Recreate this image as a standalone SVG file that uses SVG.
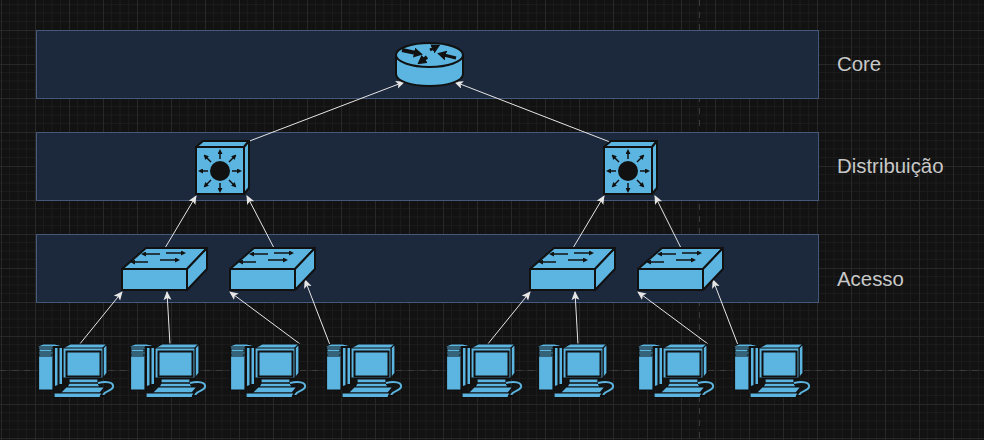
<svg xmlns="http://www.w3.org/2000/svg" width="984" height="440" viewBox="0 0 984 440">
<style>
.band{fill:#1c283c;stroke:#46597a;stroke-width:1}
.lbl{font-family:"Liberation Sans",Arial,sans-serif;font-size:20.400px;fill:#c8c8c8}
.s{fill:#5bb5e0;stroke:#111;stroke-width:2;stroke-linejoin:round}
.t{fill:#5bb5e0;stroke:#111;stroke-width:2;stroke-linejoin:round}
.q{fill:#5bb5e0;stroke:#111;stroke-width:1.200;stroke-linejoin:round}
.a{stroke:#111;stroke-width:1.500;fill:none;marker-end:url(#ah)}
.c{stroke:#e6e6e6;stroke-width:1;fill:none;marker-end:url(#open)}
.r{stroke:#111;fill:none;marker-end:url(#rh)}
</style>
<defs>
<pattern id="g" width="34" height="34" x="1" y="30" patternUnits="userSpaceOnUse">
<path d="M8.500 0V34M17 0V34M25.500 0V34M0 8.500H34M0 17H34M0 25.500H34" stroke="#1b1b1b" stroke-width="1" fill="none"/>
<path d="M0.500 0V34M0 0.500H34" stroke="#282828" stroke-width="1" fill="none"/>
</pattern>
<marker id="open" markerWidth="10" markerHeight="10" refX="8" refY="4" orient="auto" markerUnits="userSpaceOnUse"><path d="M0 0L9 4L0 8L2 4Z" fill="#e6e6e6"/></marker>
<marker id="ah" markerWidth="5" markerHeight="5" refX="3" refY="2.500" orient="auto" markerUnits="userSpaceOnUse"><path d="M0 0L5 2.500L0 5Z" fill="#111"/></marker>
<marker id="rh" markerWidth="9" markerHeight="10" refX="2" refY="5" orient="auto" markerUnits="userSpaceOnUse"><path d="M0 0L9 5L0 10Z" fill="#111"/></marker>
<g id="pc">
<path class="q" d="M0 1L5 -1H17L25 1V41L15 45H0Z"/>
<path d="M15 1L25 1V41L15 45Z" fill="#111"/>
<path d="M17 3L19.500 3V40L17 41Z" fill="#5bb5e0"/>
<path d="M21.500 3H24V39H21.500Z" fill="#5bb5e0"/>
<path d="M0.500 2H15V45H0.500Z" class="q"/>
<path d="M1 4H14V7H1ZM1 9H14V11H1Z" fill="#5bb5e0" stroke="#111" stroke-width="1"/>
<path class="q" d="M25 3L32 -1H69V28L65 33H25Z"/>
<path class="q" d="M65 3L69 -1V28L65 33Z"/>
<path d="M25 3H65V33H25Z" class="q"/>
<rect x="28.500" y="6.500" width="34" height="25" fill="#5bb5e0" stroke="#111" stroke-width="2"/>
<path class="q" d="M31 34H60V38L62 42H29L31 38Z"/>
<path d="M30 38H60" stroke="#111" stroke-width="1.500"/>
<path class="q" d="M22 48L28 42H67L62 48Z"/>
<path class="q" d="M16 48H64L62 52.500H16Z"/>
<path d="M60 38C68 36 76 37 75 42C74 46 68 45 65 50" fill="none" stroke="#5bb5e0" stroke-width="2"/>
<path d="M62 51H70" stroke="#111" stroke-width="2"/>
</g>
<g id="sw">
<path class="s" d="M0 21L24 0H85L65 21Z"/>
<path class="s" d="M65 21L85 0V21L65 42Z"/>
<rect class="s" x="0" y="21" width="65" height="21"/>
<path class="a" d="M38 6H21"/><path class="a" d="M44 5H62"/><path class="a" d="M26 14H10"/><path class="a" d="M38 12H56"/>
</g>
<g id="ds">
<path class="s" d="M0 6L7 0H53L48 6Z"/>
<path class="s" d="M48 6L53 0V47L48 53Z"/>
<rect class="s" x="0" y="6" width="48" height="47"/>
<circle cx="24" cy="30" r="10" fill="#111"/>
<path class="a" d="M24 18V10"/><path class="a" d="M24 42V50"/><path class="a" d="M12 30H4"/><path class="a" d="M36 30H44"/>
<path class="a" d="M15 21L9 15"/><path class="a" d="M33 21L39 15"/><path class="a" d="M15 39L9 45"/><path class="a" d="M33 39L39 45"/>
</g>
</defs>
<rect width="984" height="440" fill="#121212"/>
<rect width="984" height="440" fill="url(#g)"/>
<path d="M0 370.500H984M699.500 0V440" stroke="#3a3a3a" stroke-dasharray="6 6" fill="none"/>
<rect class="band" x="36.500" y="30.500" width="782" height="68"/>
<rect class="band" x="36.500" y="132.500" width="782" height="68"/>
<rect class="band" x="36.500" y="234.500" width="782" height="68"/>
<text class="lbl" x="837" y="71">Core</text>
<text class="lbl" x="837" y="173">Distribuição</text>
<text class="lbl" x="837" y="286">Acesso</text>
<g id="connectors">
<path class="c" d="M247 142L404 82"/><path class="c" d="M610 142L455 82"/>
<path class="c" d="M165 248L196 196"/><path class="c" d="M274 248L247 196"/>
<path class="c" d="M573 248L604 196"/><path class="c" d="M681 248L655 196"/>
<path class="c" d="M79 345L122 292"/><path class="c" d="M170 345L167 292"/>
<path class="c" d="M300 344L230 292"/><path class="c" d="M330 345L305 280"/>
<path class="c" d="M487 345L530 292"/><path class="c" d="M578 345L575 292"/>
<path class="c" d="M708 344L638 292"/><path class="c" d="M738 345L713 280"/>
</g>
<g id="router">
<path class="s" d="M396 55V74C396 81 411 86 429.500 86C448 86 463 81 463 74V55Z"/>
<ellipse class="s" cx="429.500" cy="55" rx="33.500" ry="12"/>
<path class="r" d="M402 50L416 53" stroke-width="4"/>
<path class="r" d="M430 50L434 48" stroke-width="3"/>
<path class="r" d="M456 58L444 55" stroke-width="3"/>
<path class="r" d="M427 57L423 60" stroke-width="3.500"/>
</g>
<use id="dist1" href="#ds" x="196" y="141"/>
<use id="dist2" href="#ds" x="604" y="141"/>
<use id="acc1" href="#sw" x="122" y="248"/>
<use id="acc2" href="#sw" x="230" y="248"/>
<use id="acc3" href="#sw" x="530" y="248"/>
<use id="acc4" href="#sw" x="638" y="248"/>
<use id="pc1" href="#pc" x="38" y="345"/>
<use id="pc2" href="#pc" x="130" y="345"/>
<use id="pc3" href="#pc" x="230" y="345"/>
<use id="pc4" href="#pc" x="326" y="345"/>
<use id="pc5" href="#pc" x="446" y="345"/>
<use id="pc6" href="#pc" x="538" y="345"/>
<use id="pc7" href="#pc" x="638" y="345"/>
<use id="pc8" href="#pc" x="734" y="345"/>
</svg>
